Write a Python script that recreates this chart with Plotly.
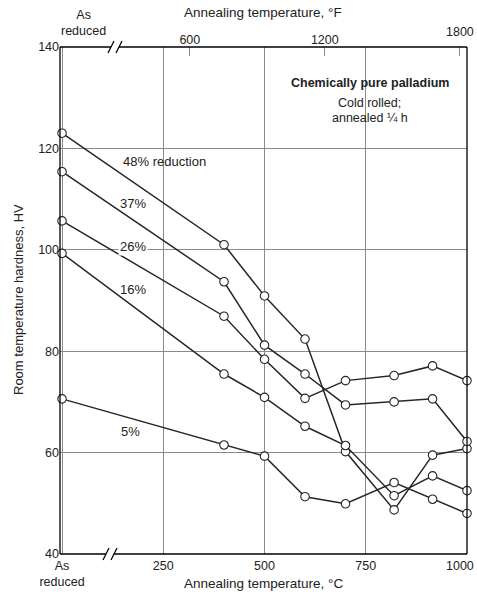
import plotly.graph_objects as go

# Annealing temperature, °C (0 = "As reduced")
temps = [0, 400, 500, 600, 700, 820, 915, 1000]

r48 = [123.0, 101.0, 90.9, 82.4, 60.2, 48.7, 59.5, 60.8]
r37 = [115.4, 93.7, 81.2, 75.5, 69.4, 70.0, 70.6, 62.2]
r26 = [105.7, 86.9, 78.4, 70.7, 74.2, 75.2, 77.1, 74.2]
r16 = [99.3, 75.5, 70.9, 65.2, 61.4, 51.5, 55.4, 52.5]
r05 = [70.6, 61.5, 59.3, 51.3, 49.9, 54.1, 50.8, 48.0]

series = [r48, r37, r26, r16, r05]

x_ticks_c = [0, 250, 500, 750, 1000]
x_ticktext_c = ["As<br>reduced", "250", "500", "750", "1000"]
x_ticks_f = [600, 1200, 1800]
y_ticks = [40, 60, 80, 100, 120, 140]

FONT = "Liberation Sans, Arial, sans-serif"
LINE = "#262626"
GRID = "#8a8a8a"

fig = go.Figure()
for s in series:
    fig.add_trace(go.Scatter(
        x=temps, y=s, mode="lines+markers", cliponaxis=False,
        line=dict(color=LINE, width=1.5),
        marker=dict(size=8.5, color="white", line=dict(color=LINE, width=1.1)),
        showlegend=False, hoverinfo="skip"))

xmin, xmax = -5, 1000
# invisible trace for the °F axis
fig.add_trace(go.Scatter(x=[xmin * 1.8 + 32], y=[40], xaxis="x2", mode="markers",
                         marker=dict(opacity=0), showlegend=False, hoverinfo="skip"))

# last tick labels are drawn as right-aligned annotations (they overhang the edge)
ct_text = x_ticktext_c[:-1] + [""]
ft_text = [str(v) for v in x_ticks_f[:-1]] + [""]

fig.update_layout(
    width=477, height=597, autosize=False,
    margin=dict(l=60, r=10, t=47, b=43),
    paper_bgcolor="white", plot_bgcolor="white",
    font=dict(family=FONT, size=12, color="#222"),
    xaxis=dict(range=[xmin, xmax], tickvals=x_ticks_c, ticktext=ct_text,
               automargin=False, ticklabelstandoff=2,
               showgrid=True, gridcolor=GRID, gridwidth=1, zeroline=False,
               showline=False, ticks="", tickfont=dict(size=12.5, family=FONT)),
    xaxis2=dict(range=[xmin * 1.8 + 32, xmax * 1.8 + 32], overlaying="x", side="top",
                automargin=False,
                tickvals=x_ticks_f, ticktext=ft_text,
                ticks="inside", ticklen=9, tickcolor=GRID, tickwidth=1,
                showgrid=False, zeroline=False, showline=False,
                tickfont=dict(size=12.5, family=FONT)),
    yaxis=dict(range=[40, 140], tickvals=y_ticks, showgrid=True, gridcolor=GRID,
               automargin=False,
               gridwidth=1, zeroline=False, showline=False, ticks="",
               tickfont=dict(size=12.5, family=FONT)),
)

# frame with axis breaks
W, H = 407.0, 507.0
def px(xp):
    return (xp - 60) / W
def py(yp):
    return 1 - (yp - 47) / H
shapes = []
blk = dict(color="black", width=1.3)
shapes.append(dict(type="line", xref="paper", yref="paper", x0=0, x1=0, y0=0, y1=1, line=blk))
shapes.append(dict(type="line", xref="paper", yref="paper", x0=1, x1=1, y0=0, y1=1, line=blk))
for yv, bl, br in [(0, 106, 114), (1, 111, 119)]:
    shapes.append(dict(type="line", xref="paper", yref="paper", x0=0, x1=px(bl), y0=yv, y1=yv, line=blk))
    shapes.append(dict(type="line", xref="paper", yref="paper", x0=px(br), x1=1, y0=yv, y1=yv, line=blk))
    for xb in (bl, br):
        shapes.append(dict(type="line", xref="paper", yref="paper",
                           x0=px(xb - 3), x1=px(xb + 3), y0=yv - 6 / H, y1=yv + 6 / H, line=blk))
fig.update_layout(shapes=shapes)

ann = []
def lab(text, x, y, size=13, **kw):
    d = dict(text=text, x=x, y=y, xref="x", yref="y", showarrow=False,
             xanchor="center", yanchor="middle",
             font=dict(size=size, family=FONT, color="#222"))
    d.update(kw)
    ann.append(d)

lab("48% reduction", 253, 117.5)
lab("37%", 176, 109.2)
lab("26%", 175, 100.6, bgcolor="white")
lab("16%", 175, 92.1)
lab("5%", 168, 64.1)
lab("<b>Chemically pure palladium</b>", 760, 132.9, size=12.5)
lab("Cold rolled;", 760, 129.0, size=12.5)
lab("annealed ¼ h", 760, 126.0, size=12.5)

def pap(text, xp, yp, size=12.5, xanchor="center", **kw):
    d = dict(text=text, xref="paper", yref="paper", x=px(xp), y=py(yp),
             showarrow=False, xanchor=xanchor, yanchor="middle",
             font=dict(size=size, family=FONT, color="#222"))
    d.update(kw)
    ann.append(d)

pap("Annealing temperature, °F", 263, 12, size=13.5)
pap("Annealing temperature, °C", 263, 583, size=13.5)
pap("As<br>reduced", 83, 23, size=12.5)
pap("1800", 476, 32, xanchor="right")
pap("1000", 476, 566, xanchor="right")
pap("Room temperature hardness, HV", 18, 300, size=13, textangle=-90)
fig.update_layout(annotations=ann)

fig.write_html("out.html", config={"displayModeBar": False},
               post_script="document.body.style.margin='0';document.body.style.overflow='hidden';")
